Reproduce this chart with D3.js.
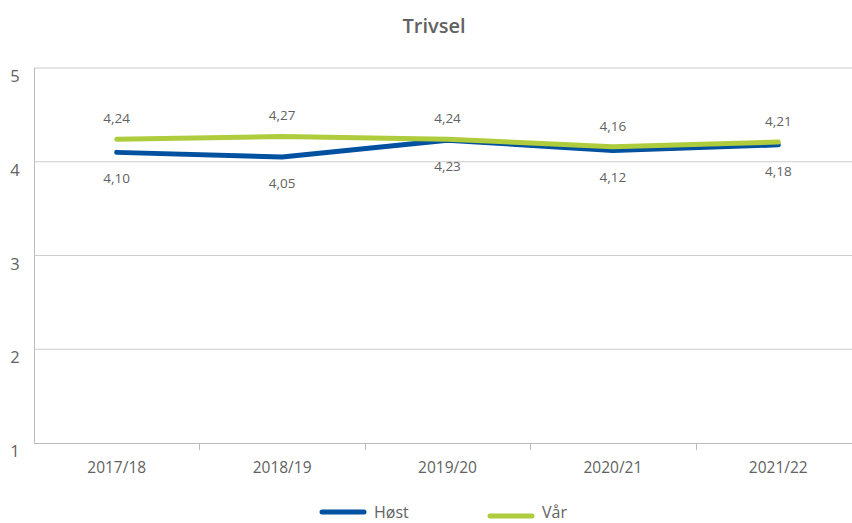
<!DOCTYPE html>
<meta charset="utf-8">
<style>
body { margin: 0; background: #fff; }
text { font-family: "Open Sans", sans-serif; fill: #626262; }
.grid line { stroke: #ccc; stroke-width: 1px; }
</style>
<svg width="852" height="523"></svg>
<script src="https://d3js.org/d3.v7.min.js"></script>
<script>

var years = ["2017/18", "2018/19", "2019/20", "2020/21", "2021/22"];
var host = [4.10, 4.05, 4.23, 4.12, 4.18];
var var_ = [4.24, 4.27, 4.24, 4.16, 4.21];
var yTicks = [1, 2, 3, 4, 5];

var svg = d3.select("svg");

var x = d3.scaleBand().domain(years).range([34, 861]);
var y = d3.scaleLinear().domain([1, 5]).range([443, 68]);

svg.append("text")
    .attr("x", 434).attr("y", 33)
    .attr("text-anchor", "middle")
    .style("font-size", "20px")
    .style("font-weight", 600)
    .text("Trivsel");

// gridlines
svg.append("g").attr("class", "grid")
  .selectAll("line")
  .data(yTicks.slice(1))
  .enter().append("line")
    .attr("x1", 34).attr("x2", 852)
    .attr("y1", d => y(d)).attr("y2", d => y(d));

// y axis line and labels
svg.append("line")
    .attr("x1", 34.5).attr("x2", 34.5)
    .attr("y1", y(5)).attr("y2", y(1))
    .attr("stroke", "#bbb");

svg.append("g")
  .selectAll("text")
  .data(yTicks)
  .enter().append("text")
    .attr("x", 15).attr("y", d => y(d) + 14)
    .attr("text-anchor", "middle")
    .style("font-size", "16.5px")
    .text(d => d);

// x axis
svg.append("line")
    .attr("x1", 34).attr("x2", 852)
    .attr("y1", y(1) + 0.5).attr("y2", y(1) + 0.5)
    .attr("stroke", "#bbb");

svg.append("g")
  .selectAll("line")
  .data(years.slice(1))
  .enter().append("line")
    .attr("x1", d => Math.round(x(d)) + 0.5).attr("x2", d => Math.round(x(d)) + 0.5)
    .attr("y1", y(1)).attr("y2", y(1) + 7)
    .attr("stroke", "#bbb");

svg.append("g")
  .selectAll("text")
  .data(years)
  .enter().append("text")
    .attr("x", d => x(d) + x.bandwidth() / 2)
    .attr("y", y(1) + 30)
    .attr("text-anchor", "middle")
    .style("font-size", "15.5px")
    .text(d => d);

var cx = d => x(d) + x.bandwidth() / 2;
var line = d3.line()
    .x((d, i) => cx(years[i]))
    .y(d => y(d));

var fmt = d => d.toFixed(2).replace(".", ",");

var series = [
  {name: "Vår", values: var_, color: "#afcc3c", dy: -16},
  {name: "Høst", values: host, color: "#0051a0", dy: 31}
];

// draw blue first, green on top
[series[1], series[0]].forEach(function(s) {
  svg.append("path")
      .datum(s.values)
      .attr("fill", "none")
      .attr("stroke", s.color)
      .attr("stroke-width", 5)
      .attr("stroke-linecap", "round")
      .attr("stroke-linejoin", "round")
      .attr("d", line);
});

series.forEach(function(s) {
  svg.append("g")
    .selectAll("text")
    .data(s.values)
    .enter().append("text")
      .attr("x", (d, i) => cx(years[i]))
      .attr("y", d => y(d) + s.dy)
      .attr("text-anchor", "middle")
      .style("font-size", "13.5px")
      .text(fmt);
});

// legend
var legend = [
  {name: "Høst", color: "#0051a0", x: 322, y: 512, ty: 518},
  {name: "Vår", color: "#afcc3c", x: 490, y: 516, ty: 518}
];
legend.forEach(function(l) {
  svg.append("line")
      .attr("x1", l.x).attr("x2", l.x + 42)
      .attr("y1", l.y).attr("y2", l.y)
      .attr("stroke", l.color)
      .attr("stroke-width", 5)
      .attr("stroke-linecap", "round");
  svg.append("text")
      .attr("x", l.x + 52).attr("y", l.ty)
      .style("font-size", "16px")
      .text(l.name);
});

</script>
